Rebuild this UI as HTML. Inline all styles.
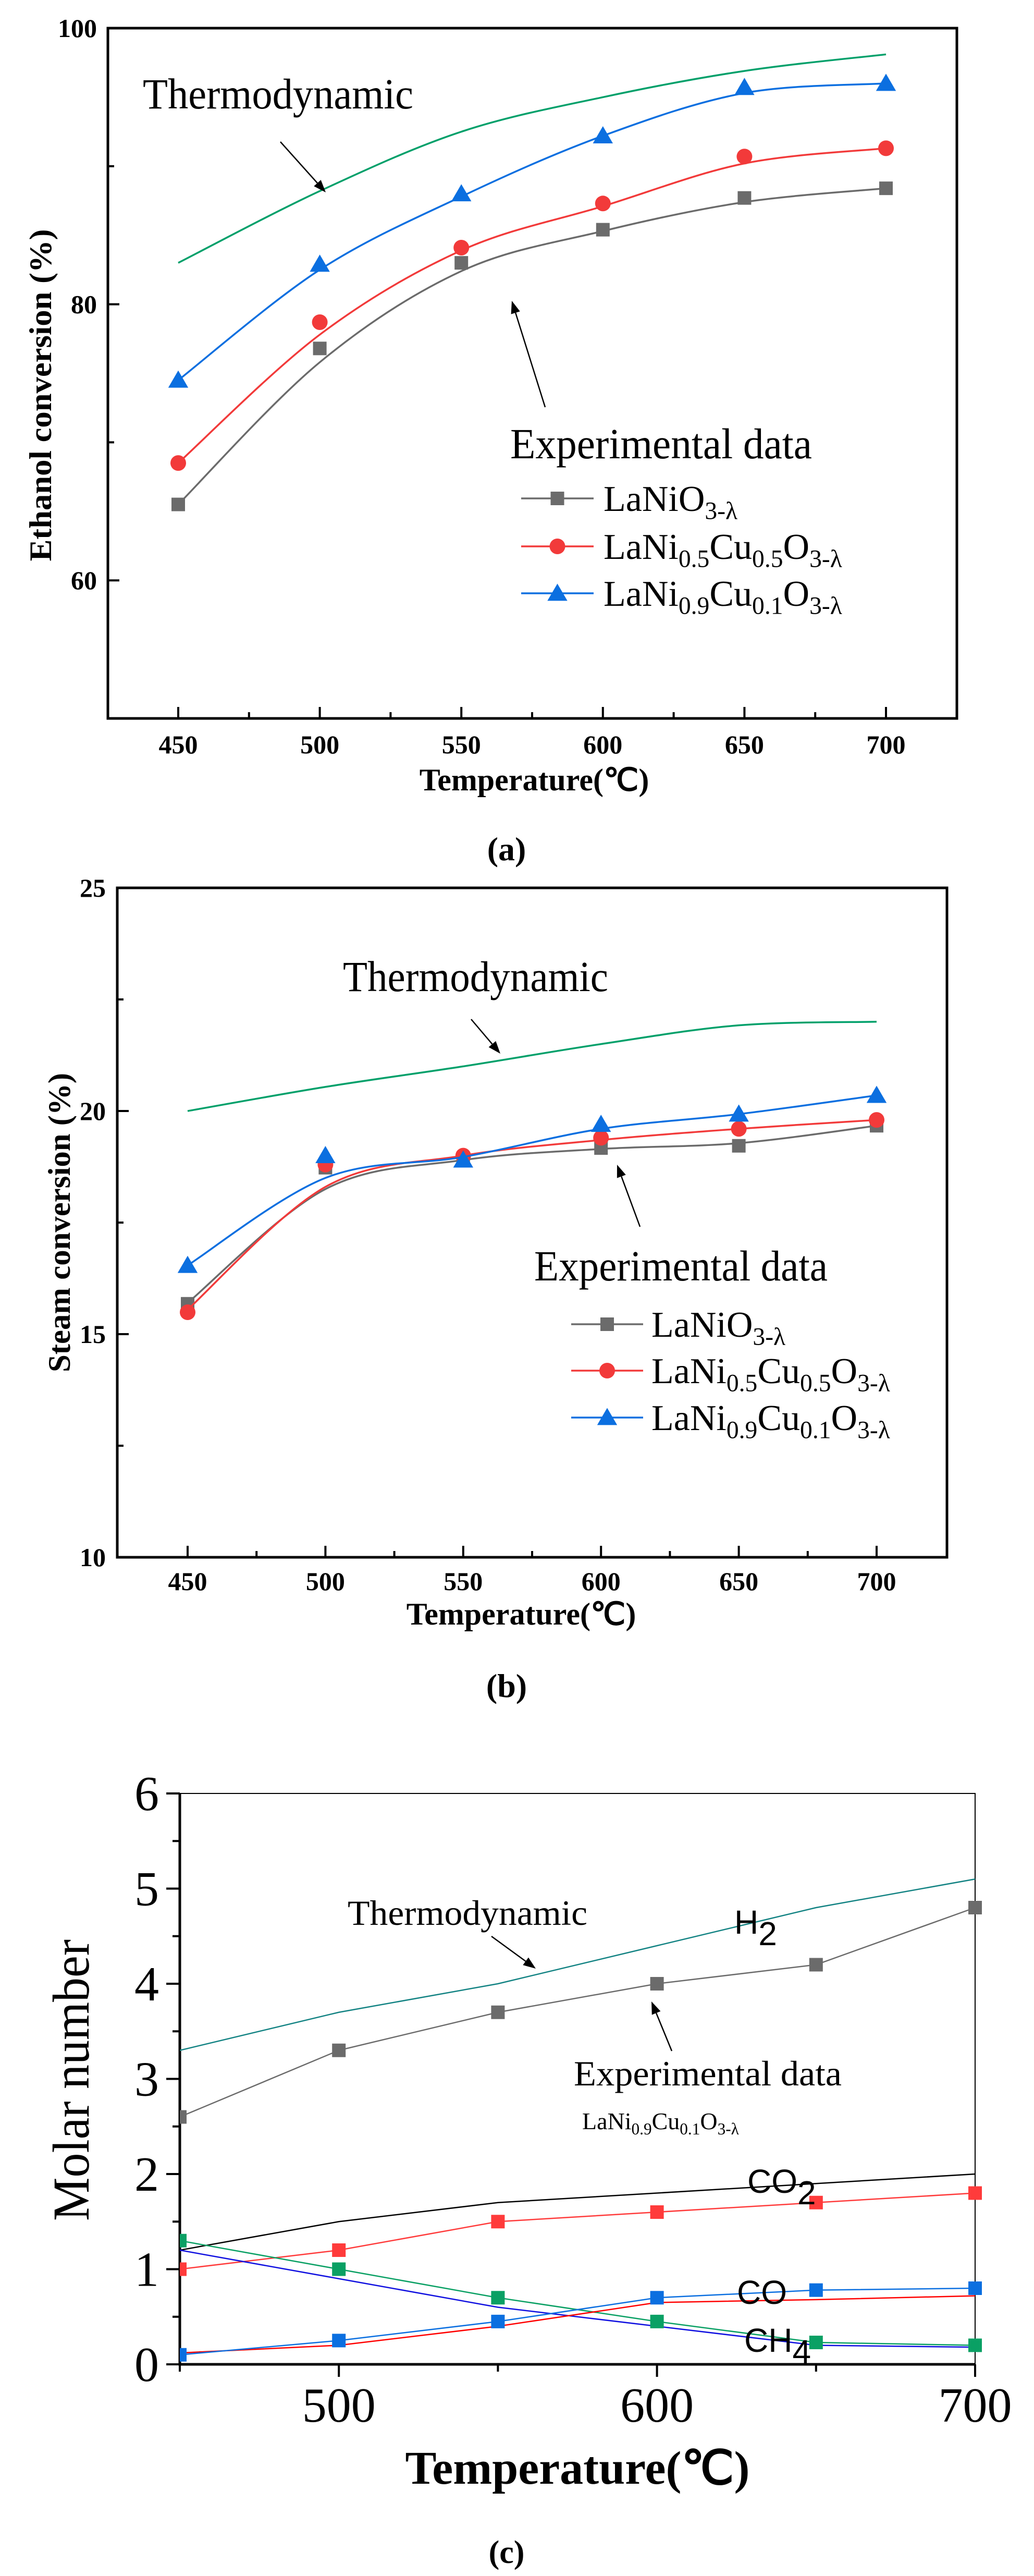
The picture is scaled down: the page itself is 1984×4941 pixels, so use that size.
<!DOCTYPE html>
<html><head><meta charset="utf-8"><style>
html,body{margin:0;padding:0;background:#fff;}
svg{display:block;}
text{font-family:"Liberation Serif",serif;}
.sans{font-family:"Liberation Sans",sans-serif;}
</style></head><body>
<svg id="fig" xmlns="http://www.w3.org/2000/svg" width="1984" height="4941" viewBox="0 0 1984 4941"></svg>
<script>
// ---------- Chart (a) data ----------
const aTemps = [450, 500, 550, 600, 650, 700];
const aGray = [65.5, 76.8, 83.0, 85.4, 87.7, 88.4];
const aRed = [68.5, 78.7, 84.1, 87.3, 90.7, 91.3];
const aBlue = [74.5, 82.9, 88.0, 92.2, 95.7, 96.0];
const aGrayFit = [65.5, 75.8, 82.4, 85.3, 87.4, 88.4];
const aRedFit = [68.5, 77.8, 83.9, 87.1, 90.2, 91.3];
const aBlueFit = [74.5, 82.5, 87.8, 92.2, 95.3, 96.0];
const aThermo = [83.0, 88.2, 92.5, 95.0, 96.9, 98.1];
const aYTicks = [60, 80, 100];
const aXTicks = [450, 500, 550, 600, 650, 700];
// ---------- Chart (b) data ----------
const bTemps = [450, 500, 550, 600, 650, 700];
const bGray = [15.68, 18.73, 18.9, 19.17, 19.22, 19.67];
const bRed = [15.49, 18.8, 19.0, 19.4, 19.6, 19.8];
const bBlue = [16.54, 19.0, 18.9, 19.7, 19.93, 20.35];
const bGrayFit = [15.7, 18.25, 18.9, 19.15, 19.28, 19.67];
const bRedFit = [15.55, 18.3, 19.0, 19.35, 19.6, 19.8];
const bBlueFit = [16.54, 18.5, 18.97, 19.6, 19.93, 20.35];
const bThermo = [20.0, 20.54, 21.0, 21.5, 21.92, 22.0];
const bYTicks = [10, 15, 20, 25];
const bXTicks = [450, 500, 550, 600, 650, 700];
// ---------- Chart (c) data ----------
const cTemps = [450, 500, 550, 600, 650, 700];
const cH2Thermo = [3.3, 3.7, 4.0, 4.4, 4.8, 5.1];
const cH2Exp = [2.6, 3.3, 3.7, 4.0, 4.2, 4.8];
const cCO2Thermo = [1.2, 1.5, 1.7, 1.8, 1.9, 2.0];
const cCO2Exp = [1.0, 1.2, 1.5, 1.6, 1.7, 1.8];
const cCH4Thermo = [1.2, 0.9, 0.6, 0.4, 0.2, 0.18];
const cCH4Exp = [1.3, 1.0, 0.7, 0.45, 0.23, 0.2];
const cCOThermo = [0.12, 0.2, 0.4, 0.65, 0.68, 0.72];
const cCOExp = [0.1, 0.25, 0.45, 0.7, 0.78, 0.8];
const cYTicks = [0, 1, 2, 3, 4, 5, 6];
const cXTicks = [500, 600, 700];

const NS = "http://www.w3.org/2000/svg";
const svg = document.getElementById('fig');
function mk(tag, attrs, parent) {
  const e = document.createElementNS(NS, tag);
  for (const k in attrs) e.setAttribute(k, attrs[k]);
  (parent || svg).appendChild(e);
  return e;
}
function lin(d0, d1, r0, r1) { return v => r0 + (v - d0) * (r1 - r0) / (d1 - d0); }
function spline(pts) {
  let d = `M${pts[0][0]},${pts[0][1]}`;
  for (let i = 0; i < pts.length - 1; i++) {
    const p0 = pts[Math.max(0, i - 1)], p1 = pts[i], p2 = pts[i + 1], p3 = pts[Math.min(pts.length - 1, i + 2)];
    const c1x = p1[0] + (p2[0] - p0[0]) / 6, c1y = p1[1] + (p2[1] - p0[1]) / 6;
    const c2x = p2[0] - (p3[0] - p1[0]) / 6, c2y = p2[1] - (p3[1] - p1[1]) / 6;
    d += ` C${c1x},${c1y} ${c2x},${c2y} ${p2[0]},${p2[1]}`;
  }
  return d;
}
function polyline(pts) { return 'M' + pts.map(p => p.join(',')).join(' L'); }
function marker(g, shape, x, y, color, s) {
  let e;
  if (shape === 'square') e = mk('rect', {x: x - s / 2, y: y - s / 2, width: s, height: s, fill: color}, g);
  else if (shape === 'circle') e = mk('circle', {cx: x, cy: y, r: s / 2, fill: color}, g);
  else e = mk('polygon', {points: `${x},${y - s * 0.58} ${x - s * 0.6},${y + s * 0.45} ${x + s * 0.6},${y + s * 0.45}`, fill: color}, g);
  return e;
}
function arrow(x1, y1, x2, y2, name) {
  const g = mk('g', {});
  
  
  const ang = Math.atan2(y2 - y1, x2 - x1), L = 24, W = 9;
  const bx = x2 - L * Math.cos(ang), by = y2 - L * Math.sin(ang);
  mk('line', {x1, y1, x2: bx, y2: by, stroke: '#000', 'stroke-width': 2.5}, g);
  mk('polygon', {points: `${x2},${y2} ${bx + W * Math.sin(ang)},${by - W * Math.cos(ang)} ${bx - W * Math.sin(ang)},${by + W * Math.cos(ang)}`, fill: '#000'}, g);
}
function txt(x, y, str, attrs, name) {
  const t = mk('text', Object.assign({x, y}, attrs));
  t.textContent = str;
  
  
  return t;
}
function formula(x, y, parts, size, name) {
  const t = mk('text', {x, y, 'font-size': size});
  
  
  let down = false;
  parts.forEach(p => {
    const sp = mk('tspan', {}, t);
    if (p.sub && !down) { sp.setAttribute('dy', size * 0.22); sp.setAttribute('font-size', size * 0.68); down = true; }
    else if (p.sub) { sp.setAttribute('font-size', size * 0.68); }
    else if (!p.sub && down) { sp.setAttribute('dy', -size * 0.22); down = false; }
    sp.textContent = p.t;
  });
  return t;
}
const LA = [{t: 'LaNiO'}, {t: '3-λ', sub: 1}];
const LB = [{t: 'LaNi'}, {t: '0.5', sub: 1}, {t: 'Cu'}, {t: '0.5', sub: 1}, {t: 'O'}, {t: '3-λ', sub: 1}];
const LC = [{t: 'LaNi'}, {t: '0.9', sub: 1}, {t: 'Cu'}, {t: '0.1', sub: 1}, {t: 'O'}, {t: '3-λ', sub: 1}];

const GRAY = '#6b6b6b', RED = '#f23a3a', BLUE = '#0b6fe0', GREEN = '#00a06a';

function chartAB(o) {
  const X = lin(450, 700, o.x450, o.x700), Y = lin(o.ymin, o.ymax, o.bottom, o.top);
  const g = mk('g', {});
  
  
  for (let v = 450; v <= 700; v += 25) {
    const tk = mk('line', {x1: X(v), x2: X(v), y1: o.bottom, y2: o.bottom - (v % 50 === 0 ? 22 : 12), stroke: '#000', 'stroke-width': 4}, g);
    
    
  }
  for (let v = o.ymin; v <= o.ymax; v += o.minor) {
    const major = o.yTicks.includes(v);
    const tk = mk('line', {x1: o.left, x2: o.left + (major ? 22 : 12), y1: Y(v), y2: Y(v), stroke: '#000', 'stroke-width': 4}, g);
    
    
  }
  const frame = mk('rect', {x: o.left, y: o.top, width: o.right - o.left, height: o.bottom - o.top, fill: 'none', stroke: '#000', 'stroke-width': 5}, g);
  
  
  o.xTicks.forEach(v => {
    txt(X(v), o.xLabelY, String(v), {'font-size': 50, 'font-weight': 'bold', 'text-anchor': 'middle'}, 'x-tick-label');
  });
  o.yTicks.forEach(v => {
    txt(o.yLabelX, Y(v) + 17, String(v), {'font-size': 50, 'font-weight': 'bold', 'text-anchor': 'end'}, 'y-tick-label');
  });
  const th = mk('path', {d: spline(o.temps.map((t, i) => [X(t), Y(o.thermo[i])])), fill: 'none', stroke: GREEN, 'stroke-width': 3.5}, g);
  
  
  const series = [[o.gray, o.grayFit, GRAY, 'square', 26, 'lanio3'], [o.red, o.redFit, RED, 'circle', 30, 'lani05cu05o3'], [o.blue, o.blueFit, BLUE, 'triangle', 32, 'lani09cu01o3']];
  series.forEach(([vals, fit, col, shp, sz, nm]) => {
    const p = mk('path', {d: spline(o.temps.map((t, i) => [X(t), Y(fit[i])])), fill: 'none', stroke: col, 'stroke-width': 3.5}, g);
    
    
    o.temps.forEach((t, i) => {
      const m = marker(g, shp, X(t), Y(vals[i]), col, sz);
      
      
    });
  });
  const lg = mk('g', {});
  
  
  [[GRAY, 'square', 26, LA], [RED, 'circle', 30, LB], [BLUE, 'triangle', 32, LC]].forEach(([col, shp, sz, lab], i) => {
    const y = o.legRows[i];
    const ln = mk('line', {x1: o.legX1, x2: o.legX2, y1: y, y2: y, stroke: col, 'stroke-width': 3.5}, lg);
    
    
    const m = marker(lg, shp, (o.legX1 + o.legX2) / 2, y, col, sz);
    
    
    formula(o.legTextX, y + 24, lab, 70, 'legend-entry');
  });
  txt(o.thermoText[0], o.thermoText[1], 'Thermodynamic', {'font-size': 83, textLength: o.thermoText[2], lengthAdjust: 'spacingAndGlyphs'}, 'thermodynamic-label');
  arrow(...o.thermoArrow, 'thermodynamic-arrow');
  txt(o.expText[0], o.expText[1], 'Experimental data', {'font-size': 83, textLength: o.expText[2], lengthAdjust: 'spacingAndGlyphs'}, 'experimental-label');
  arrow(...o.expArrow, 'experimental-arrow');
  txt(o.xTitle[0], o.xTitle[1], 'Temperature(℃)', {'font-size': 60, 'font-weight': 'bold', 'text-anchor': 'middle'}, 'x-axis-title');
  txt(0, 0, o.yTitle, {'font-size': 60, 'font-weight': 'bold', 'text-anchor': 'middle', textLength: o.yTitleLen, lengthAdjust: 'spacingAndGlyphs', transform: `translate(${o.yTitleXY[0]},${o.yTitleXY[1]}) rotate(-90)`}, 'y-axis-title');
  txt(972, o.capY, o.caption, {'font-size': 64, 'font-weight': 'bold', 'text-anchor': 'middle'}, 'panel-caption');
}

chartAB({name: 'chart-a', left: 207, right: 1836, top: 54, bottom: 1378, x450: 342, x700: 1700, ymin: 50, ymax: 100, minor: 10,
  yTicks: aYTicks, xTicks: aXTicks, temps: aTemps, thermo: aThermo,
  gray: aGray, red: aRed, blue: aBlue, grayFit: aGrayFit, redFit: aRedFit, blueFit: aBlueFit,
  xLabelY: 1445, yLabelX: 186, legX1: 1000, legX2: 1139, legRows: [956, 1048, 1138], legTextX: 1158,
  thermoText: [274, 208, 519], thermoArrow: [538, 272, 625, 369], expText: [979, 879, 579], expArrow: [1046, 781, 982, 577],
  xTitle: [1025, 1516], yTitle: 'Ethanol conversion (%)', yTitleLen: 637, yTitleXY: [98, 758], caption: '(a)', capY: 1650});

chartAB({name: 'chart-b', left: 225, right: 1817, top: 1703, bottom: 2987, x450: 360, x700: 1682, ymin: 10, ymax: 25, minor: 2.5,
  yTicks: bYTicks, xTicks: bXTicks, temps: bTemps, thermo: bThermo,
  gray: bGray, red: bRed, blue: bBlue, grayFit: bGrayFit, redFit: bRedFit, blueFit: bBlueFit,
  xLabelY: 3050, yLabelX: 203, legX1: 1096, legX2: 1234, legRows: [2540, 2629, 2719], legTextX: 1250,
  thermoText: [658, 1901, 509], thermoArrow: [904, 1955, 960, 2021], expText: [1025, 2456, 563], expArrow: [1228, 2353, 1184, 2234],
  xTitle: [1000, 3116], yTitle: 'Steam conversion (%)', yTitleLen: 574, yTitleXY: [134, 2345], caption: '(b)', capY: 3255});

// ---------- Chart (c) ----------
(function () {
  const left = 345, right = 1871, top = 3440, bottom = 4535;
  const X = lin(450, 700, left, right), Y = lin(0, 6, bottom, top);
  const g = mk('g', {});
  
  
  const fr = mk('path', {d: `M${left},${top} H${right} V${bottom}`, fill: 'none', stroke: '#000', 'stroke-width': 2}, g);
  
  
  const ax = mk('path', {d: `M${left},${top} V${bottom} H${right}`, fill: 'none', stroke: '#000', 'stroke-width': 5}, g);
  
  
  for (let v = 0; v <= 6; v += 0.5) {
    const major = Number.isInteger(v);
    const tk = mk('line', {x1: left - (major ? 26 : 14), x2: left, y1: Y(v), y2: Y(v), stroke: '#000', 'stroke-width': 4}, g);
    
    
  }
  for (let v = 450; v <= 700; v += 50) {
    const tk = mk('line', {x1: X(v), x2: X(v), y1: bottom, y2: bottom + (v % 100 === 0 ? 24 : 14), stroke: '#000', 'stroke-width': 4}, g);
    
    
  }
  cYTicks.forEach(v => txt(305, Y(v) + 32, String(v), {'font-size': 94, 'text-anchor': 'end'}, 'y-tick-label'));
  cXTicks.forEach(v => txt(X(v), 4645, String(v), {'font-size': 94, 'text-anchor': 'middle'}, 'x-tick-label'));
  const clip = mk('clipPath', {id: 'cclip'}, g);
  mk('rect', {x: left, y: top - 20, width: right - left + 20, height: bottom - top + 20}, clip);
  const dg = mk('g', {'clip-path': 'url(#cclip)'}, g);
  const lines = [
    [cH2Thermo, '#138383', null, 'h2-thermodynamic'], [cH2Exp, GRAY, GRAY, 'h2-experimental'],
    [cCO2Thermo, '#000', null, 'co2-thermodynamic'], [cCO2Exp, '#ff3b3b', '#ff3b3b', 'co2-experimental'],
    [cCH4Thermo, '#1010e0', null, 'ch4-thermodynamic'], [cCH4Exp, '#0aa064', '#0aa064', 'ch4-experimental'],
    [cCOThermo, '#ff0000', null, 'co-thermodynamic'], [cCOExp, '#0b6fe0', '#0b6fe0', 'co-experimental']];
  lines.forEach(([vals, col, mcol, nm]) => {
    const p = mk('path', {d: polyline(cTemps.map((t, i) => [X(t), Y(vals[i])])), fill: 'none', stroke: col, 'stroke-width': 2.5}, dg);
    
    
    if (mcol) cTemps.forEach((t, i) => {
      const m = marker(dg, 'square', X(t), Y(vals[i]), mcol, 26);
      
      
    });
  });
  txt(667, 3692, 'Thermodynamic', {'font-size': 68, textLength: 460, lengthAdjust: 'spacingAndGlyphs'}, 'thermodynamic-label');
  arrow(943, 3714, 1028, 3776, 'thermodynamic-arrow');
  txt(1101, 4000, 'Experimental data', {'font-size': 68, textLength: 514, lengthAdjust: 'spacingAndGlyphs'}, 'experimental-label');
  arrow(1289, 3934, 1250, 3839, 'experimental-arrow');
  formula(1117, 4084, LC, 46, 'catalyst-label');
  const sp = [[1409, 3709, 'H', '2', 'h2-label'], [1434, 4206, 'CO', '2', 'co2-label'], [1414, 4419, 'CO', '', 'co-label'], [1428, 4511, 'CH', '4', 'ch4-label']];
  sp.forEach(([x, y, a, b, nm]) => {
    const t = mk('text', {x, y, 'font-size': 64, class: 'sans'});
    
    
    const s1 = mk('tspan', {}, t); s1.textContent = a;
    if (b) { const s2 = mk('tspan', {dy: 22}, t); s2.textContent = b; }
  });
  txt(1108, 4764, 'Temperature(℃)', {'font-size': 90, 'font-weight': 'bold', 'text-anchor': 'middle'}, 'x-axis-title');
  txt(0, 0, 'Molar number', {'font-size': 100, 'text-anchor': 'middle', textLength: 540, lengthAdjust: 'spacingAndGlyphs', transform: 'translate(170,3990) rotate(-90)'}, 'y-axis-title');
  txt(972, 4916, '(c)', {'font-size': 62, 'font-weight': 'bold', 'text-anchor': 'middle'}, 'panel-caption');
})();
</script>
</body></html>
